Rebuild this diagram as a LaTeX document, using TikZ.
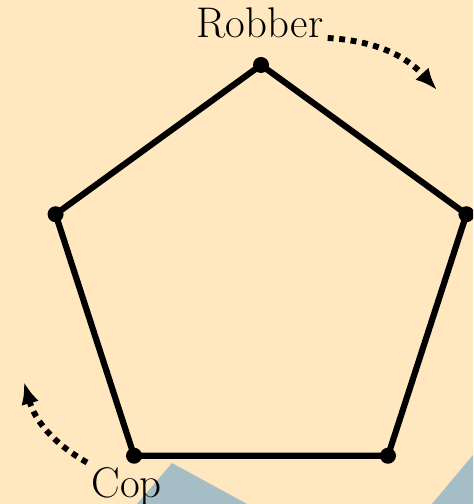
\documentclass[tikz,border=0pt]{standalone}
\usepackage{tikz}
\usetikzlibrary{arrows.meta,positioning}
\usepackage{xcolor}
\definecolor{paper}{RGB}{255,232,192}
\definecolor{slate}{RGB}{165,189,196}

\begin{document}
\begin{tikzpicture}[
    edge/.style={line width=4.4pt,line join=round},
    move/.style={line width=4.2pt,dash pattern=on 4.2pt off 4pt,
      -{Latex[length=0.55cm,width=0.45cm]},bend left=22},
    who/.style={font=\fontsize{30.5}{36}\selectfont,inner sep=3pt}
  ]
  \fill[paper] (-6.525,-5.575) rectangle (5.3,7.025);
  \useasboundingbox (-6.525,-5.575) rectangle (5.3,7.025);
  \clip (-6.525,-5.575) rectangle (5.3,7.025);
  \fill[slate] (-2.225,-4.55) -- (1.525,-6.6) -- (-3.975,-6.6) -- cycle;
  \fill[slate] (3.75,-6.2) -- (5.8,-3.75) -- (5.8,-6.2) -- cycle;
  \foreach \i in {1,...,5} {
    \coordinate (v\i) at ({90+72*(\i-1)}:5.4);
  }
  \draw[edge] (v1) -- (v2) -- (v3) -- (v4) -- (v5) -- cycle;
  \foreach \i in {1,...,5} {
    \fill (v\i) circle (0.2);
  }
  \node[who,anchor=base] (robber) at (-0.025,6.075) {Robber};
  \node[who,anchor=base] (cop) at (-3.36,-5.4) {Cop};
  \coordinate (robtip) at (4.4,4.775);
  \coordinate (coptip) at (-5.925,-2.525);
  \draw[move] (robber.base east) to (robtip);
  \draw[move] (cop.north west) to (coptip);
\end{tikzpicture}
\end{document}
